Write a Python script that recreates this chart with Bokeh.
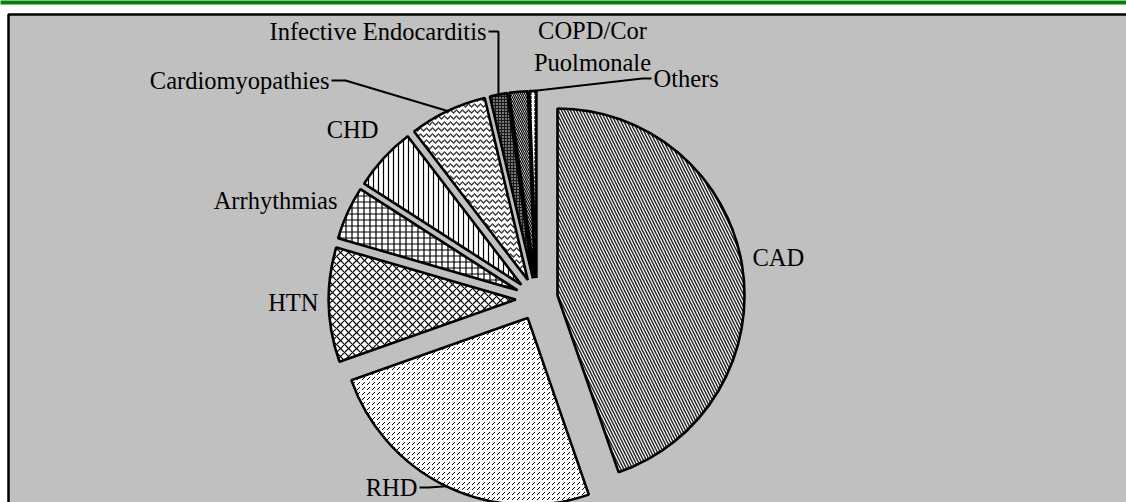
import math

from bokeh.core.properties import value
from bokeh.embed import file_html
from bokeh.models import ColumnDataSource, Range1d
from bokeh.plotting import figure
from bokeh.resources import INLINE

# Share of cardiac admissions by diagnosis (percent)
categories = ["CAD", "RHD", "HTN", "Arrhythmias", "CHD", "Cardiomyopathies",
              "Infective Endocarditis", "COPD/Cor Puolmonale", "Others"]
shares = [44.7, 24.9, 9.9, 4.6, 5.5, 6.7, 1.5, 1.6, 0.6]

# Fill / hatch style of each slice
fills = ["white", "white", "white", "white", "white", "white", "#1a1a1a", "white", "white"]
hatches = ["\\", ",", "x", "+", "|", "v", ".", "\\", ":"]
hatch_colors = ["#2a2a2a", "black", "black", "black", "black", "#3a3a3a", "white", "black", "black"]
hatch_scales = [6, 5, 8, 6, 5, 6, 3, 4, 4]
hatch_weights = [1.5, 1.0, 1.2, 1.2, 1.2, 1.3, 1.2, 1.2, 1.2]

W, H = 1126, 502
CX, CY = 536.3, H - 298.5      # pie centre
R = 187                          # pie radius
EXPLODE = 21                     # radial offset of every slice


def unit(theta_cw):
    """Direction for an angle measured clockwise from 12 o'clock (y up)."""
    t = math.radians(theta_cw)
    return math.sin(t), math.cos(t)


total = sum(shares)
starts, ends = [], []
acc = 0.0
for s in shares:
    starts.append(acc / total * 360.0)
    acc += s
    ends.append(acc / total * 360.0)

xs, ys, a0, a1, mids = [], [], [], [], []
for s0, s1 in zip(starts, ends):
    mid = (s0 + s1) / 2
    ux, uy = unit(mid)
    xs.append(CX + EXPLODE * ux)
    ys.append(CY + EXPLODE * uy)
    a0.append(math.radians(90 - s1))
    a1.append(math.radians(90 - s0))
    mids.append(mid)

src = ColumnDataSource(dict(
    x=xs, y=ys, start=a0, end=a1, cat=categories,
    fill=fills, hatch=hatches, hcol=hatch_colors, hscale=hatch_scales,
    hweight=hatch_weights,
))

p = figure(width=W, height=H, x_range=Range1d(0, W), y_range=Range1d(0, H),
           x_axis_type=None, y_axis_type=None, toolbar_location=None,
           output_backend="svg", min_border=0)
p.outline_line_color = None
p.background_fill_color = "white"
p.border_fill_color = "white"
p.grid.visible = False

# chart area and top banner
p.quad(left=8, right=W + 20, bottom=-20, top=H - 14, fill_color="#C0C0C0",
       line_color="black", line_width=2.5)
p.quad(left=-5, right=W + 5, bottom=H - 4, top=H + 5, fill_color="#088008",
       line_color=None)

p.wedge(x="x", y="y", radius=R, start_angle="start", end_angle="end",
        direction="anticlock", source=src,
        fill_color="fill", hatch_pattern="hatch", hatch_color="hcol",
        hatch_scale="hscale", hatch_weight="hweight",
        line_color="black", line_width=2.6)

FONT = value("Liberation Serif")
SIZE = "24.5px"

# label placement: (x, y from top, align)
label_pos = {
    "CAD": (752, 257, "left"),
    "RHD": (417, 487, "right"),
    "HTN": (318, 302, "right"),
    "Arrhythmias": (337, 200, "right"),
    "CHD": (352, 129, "center"),
    "Cardiomyopathies": (329, 80, "right"),
    "Infective Endocarditis": (486, 31, "right"),
    "COPD/Cor Puolmonale": (592, 46, "center"),
    "Others": (653, 78, "left"),
}
# leader line elbows (x of the short horizontal run) for labels with leaders
elbows = {
    "RHD": 428,
    "Cardiomyopathies": 345,
    "Infective Endocarditis": None,   # elbow directly above the slice
    "Others": 642,
}

for cat in categories:
    lx, ly, align = label_pos[cat]
    text = cat.replace("COPD/Cor ", "COPD/Cor\n")
    p.text(x=[lx], y=[H - ly], text=[text], text_font=FONT, text_font_size=SIZE,
           text_align=align, text_baseline="middle", text_color="black",
           text_line_height=1.15)

for cat, ex in elbows.items():
    i = categories.index(cat)
    ux, uy = unit(mids[i])
    px, py = xs[i] + R * ux, ys[i] + R * uy
    lx, ly, align = label_pos[cat]
    sx = lx + 2 if align == "right" else lx - 2
    if ex is None:
        ex = px
    p.line(x=[sx, ex, px], y=[H - ly, H - ly, py], line_color="black", line_width=2)

open("out.html", "w").write(file_html(p, INLINE))
